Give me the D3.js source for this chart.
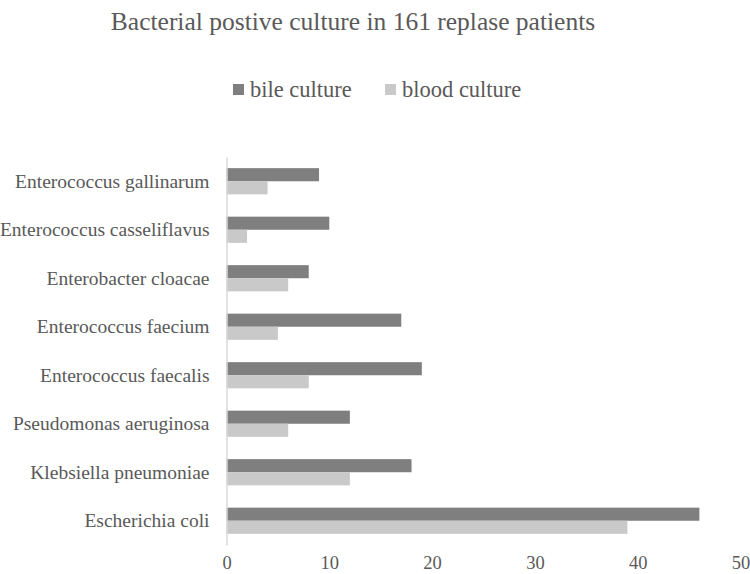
<!DOCTYPE html>
<html>
<head>
    <script src="https://cdn.jsdelivr.net/npm/d3@7"></script>
    <style>
        html, body {
            padding: 0;
            margin: 0;
            background: #fff;
        }
    </style>
</head>
<body>
<script>
    var width = 750, height = 574;

    // data, top to bottom
    var categories = ["Enterococcus gallinarum", "Enterococcus casseliflavus", "Enterobacter cloacae",
        "Enterococcus faecium", "Enterococcus faecalis", "Pseudomonas aeruginosa",
        "Klebsiella pneumoniae", "Escherichia coli"];
    var bile = [9, 10, 8, 17, 19, 12, 18, 46];
    var blood = [4, 2, 6, 5, 8, 6, 12, 39];
    var seriesNames = ["bile culture", "blood culture"];
    var seriesColors = ["#7f7f7f", "#c9c9c9"];
    var xTicks = [0, 10, 20, 30, 40, 50];

    var font = "'Liberation Serif', 'Times New Roman', serif";
    var textColor = "#595959";

    var svg = d3.select("body").append("svg")
        .attr("width", width)
        .attr("height", height)
        .style("font-family", font);

    var plotLeft = 226.5, plotRight = 740.5, plotTop = 157, plotBottom = 545;

    var x = d3.scaleLinear().domain([0, 50]).range([plotLeft, plotRight]);
    var y = d3.scaleBand().domain(categories).range([plotTop, plotBottom]).paddingInner(0.46).paddingOuter(0.23);
    var ySub = d3.scaleBand().domain(seriesNames).range([0, y.bandwidth()]);

    // title
    svg.append("text")
        .attr("x", 353)
        .attr("y", 30)
        .attr("text-anchor", "middle")
        .style("font-size", "25.5px")
        .style("fill", textColor)
        .text("Bacterial postive culture in 161 replase patients");

    // legend
    var legendX = [233, 385];
    seriesNames.forEach(function (name, i) {
        svg.append("rect")
            .attr("x", legendX[i])
            .attr("y", 84)
            .attr("width", 11)
            .attr("height", 11)
            .style("fill", seriesColors[i]);
        svg.append("text")
            .attr("x", legendX[i] + 17)
            .attr("y", 97)
            .style("font-size", "22.5px")
            .style("fill", textColor)
            .text(name);
    });

    // bars
    var rows = categories.map(function (c, i) {
        return { cat: c, values: [bile[i], blood[i]] };
    });

    var groups = svg.selectAll("g.row")
        .data(rows)
        .enter().append("g")
        .attr("class", "row")
        .attr("transform", function (d) { return "translate(0," + y(d.cat) + ")"; });

    groups.selectAll("rect")
        .data(function (d) { return d.values; })
        .enter().append("rect")
        .attr("x", x(0))
        .attr("y", function (d, i) { return ySub(seriesNames[i]); })
        .attr("width", function (d) { return x(d) - x(0); })
        .attr("height", ySub.bandwidth())
        .style("fill", function (d, i) { return seriesColors[i]; });

    // category axis
    var yAxis = svg.append("g")
        .attr("transform", "translate(" + plotLeft + ",0)")
        .call(d3.axisLeft(y).tickSize(0).tickPadding(17));
    yAxis.select(".domain").attr("stroke", "#d9d9d9").attr("stroke-width", 1.5);
    yAxis.selectAll("text")
        .style("font-family", font)
        .style("font-size", "19.5px")
        .style("fill", textColor);

    // value axis labels, no line
    var xAxis = svg.append("g")
        .attr("transform", "translate(0," + plotBottom + ")")
        .call(d3.axisBottom(x).tickValues(xTicks).tickSize(0).tickPadding(11));
    xAxis.select(".domain").remove();
    xAxis.selectAll("text")
        .style("font-family", font)
        .style("font-size", "18.5px")
        .style("fill", textColor);
</script>
</body>
</html>
